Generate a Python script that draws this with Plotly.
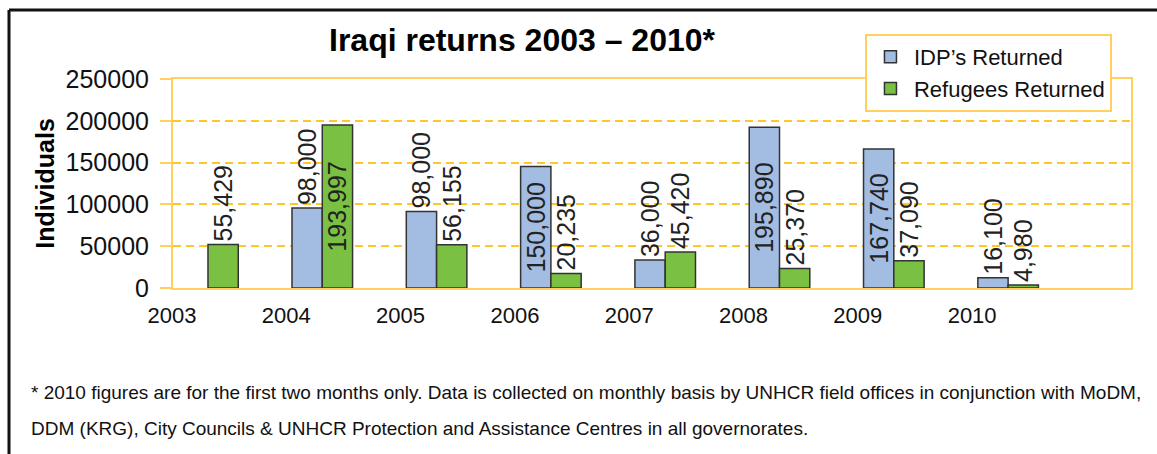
import plotly.graph_objects as go

years = ["2003", "2004", "2005", "2006", "2007", "2008", "2009", "2010"]
idp_values = [None, 95600, 91500, 145300, 33400, 192300, 166400, 12300]
ref_values = [52100, 195000, 51700, 17400, 43000, 23400, 32600, 3600]
idp_labels = ["", "98,000", "98,000", "150,000", "36,000", "195,890", "167,740", "16,100"]
ref_labels = ["55,429", "193,997", "56,155", "20,235", "45,420", "25,370", "37,090", "4,980"]
idp_pos = ["none", "outside", "outside", "inside", "outside", "inside", "inside", "outside"]
ref_pos = ["outside", "inside", "outside", "outside", "outside", "outside", "outside", "outside"]
y_ticks = [0, 50000, 100000, 150000, 200000, 250000]

FONT = "Liberation Sans, Arial, sans-serif"
GRID = "#FFC629"
AXIS = "#FFD15C"

fig = go.Figure()
fig.add_trace(go.Bar(
    name="IDP\u2019s Returned", x=years, y=idp_values, text=idp_labels,
    textposition=idp_pos, textangle=-90, insidetextanchor="middle",
    constraintext="none", cliponaxis=False,
    textfont=dict(family=FONT, size=25, color="#222"),
    marker=dict(color="#A3BCE2", line=dict(color="#333", width=1.5)),
))
fig.add_trace(go.Bar(
    name="Refugees Returned", x=years, y=ref_values, text=ref_labels,
    textposition=ref_pos, textangle=-90, insidetextanchor="middle",
    constraintext="none", cliponaxis=False,
    textfont=dict(family=FONT, size=25, color="#222"),
    marker=dict(color="#7AC143", line=dict(color="#333", width=1.5)),
))

fig.update_layout(
    width=1157, height=454,
    margin=dict(l=173, r=26, t=79, b=166),
    paper_bgcolor="white", plot_bgcolor="white",
    barmode="group", bargap=0.47, bargroupgap=0,
    font=dict(family=FONT, color="#111"),
    showlegend=True,
    legend=dict(
        x=0.7223, y=1.2153, xanchor="left", yanchor="top",
        bgcolor="white", bordercolor=AXIS, borderwidth=2,
        font=dict(family=FONT, size=22, color="#111"),
        traceorder="normal", itemwidth=37,
    ),
    title=dict(
        text="<b>Iraqi returns 2003 \u2013 2010*</b>",
        x=522 / 1157, xanchor="center", y=1 - 40 / 454, yanchor="middle",
        font=dict(family=FONT, size=32, color="#000"),
    ),
    xaxis=dict(
        type="category", range=[-0.306, 8.075],
        showline=True, linecolor=AXIS, linewidth=2, mirror=True,
        ticks="", showgrid=False, zeroline=False,
        tickfont=dict(family=FONT, size=22, color="#111"),
        ticklabelshift=-36, ticklabelstandoff=7,
    ),
    yaxis=dict(
        range=[0, 250000], tickvals=y_ticks, ticktext=[str(v) for v in y_ticks],
        showline=True, linecolor=AXIS, linewidth=2, mirror=True,
        ticks="outside", ticklen=11, tickcolor=AXIS, tickwidth=2,
        showgrid=True, gridcolor=GRID, gridwidth=1.5, griddash="8px,5px",
        zeroline=False,
        tickfont=dict(family=FONT, size=25, color="#111"),
        ticklabelstandoff=6,
        title=dict(text="<b>Individuals</b>", standoff=4,
                   font=dict(family=FONT, size=25, color="#000")),
    ),
)

# outer frame (top and left black rules)
fig.add_shape(type="line", xref="paper", yref="paper",
              x0=(9 - 173) / 958, x1=(1157 - 173) / 958,
              y0=(288 - 10) / 209, y1=(288 - 10) / 209,
              line=dict(color="#111", width=3))
fig.add_shape(type="line", xref="paper", yref="paper",
              x0=(9 - 173) / 958, x1=(9 - 173) / 958,
              y0=(288 - 10) / 209, y1=(288 - 460) / 209,
              line=dict(color="#111", width=3))

foot1 = ("* 2010 figures are for the first two months only. Data is collected on monthly basis "
         "by UNHCR field offices in conjunction with MoDM,")
foot2 = "DDM (KRG), City Councils & UNHCR Protection and Assistance Centres in all governorates."
for txt, ypx in [(foot1, 392), (foot2, 428)]:
    fig.add_annotation(text=txt, xref="paper", yref="paper",
                       x=(29 - 173) / 958, y=(288 - ypx) / 209,
                       xanchor="left", yanchor="middle", showarrow=False,
                       font=dict(family=FONT, size=19, color="#111"))

fig.write_html("out.html", config={"displayModeBar": False},
               post_script="document.body.style.margin='0px';")
